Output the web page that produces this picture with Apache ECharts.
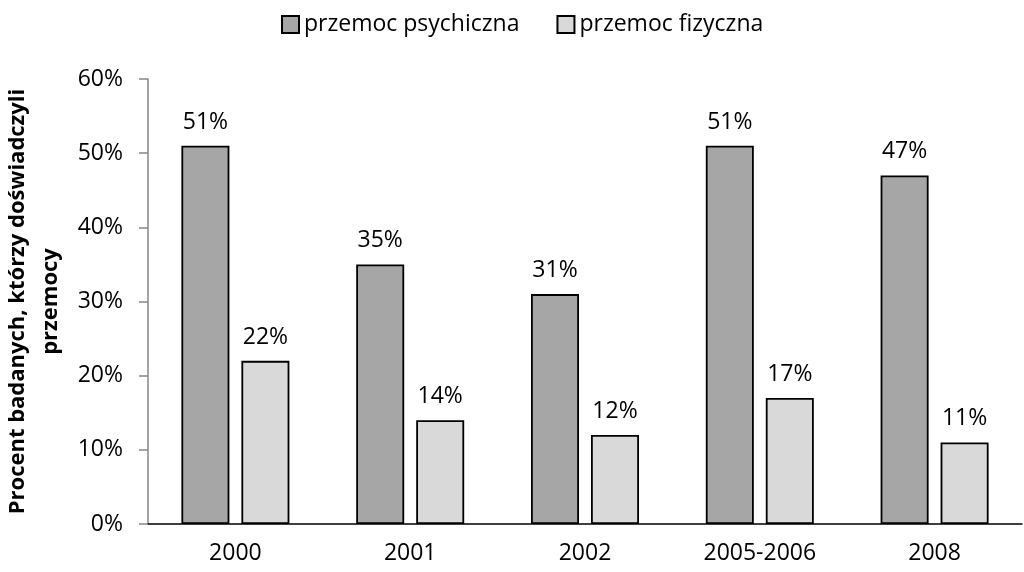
<!DOCTYPE html>
<html lang="pl">
<head>
  <meta charset="UTF-8">
  <title>Przemoc</title>
  <script src="https://cdn.jsdelivr.net/npm/echarts@6/dist/echarts.min.js"></script>
  <style>
    html, body { margin: 0; padding: 0; background: #fff; }
    #main { width: 1024px; height: 572px; }
  </style>
</head>
<body>
  <div id="main"></div>
  <script>
    // dane
    var categories = ['2000', '2001', '2002', '2005-2006', '2008'];
    var psychiczna = [51, 35, 31, 51, 47];
    var fizyczna = [22, 14, 12, 17, 11];
    var seriesNames = ['przemoc psychiczna', 'przemoc fizyczna'];

    var font = '"Open Sans", "Noto Sans", sans-serif';
    var myChart = echarts.init(document.getElementById('main'));

    function barSeries(name, data, color) {
      return {
        name: name,
        type: 'bar',
        data: data,
        barWidth: 48,
        barGap: '25%',
        itemStyle: { color: color, borderColor: '#000', borderWidth: 1.8 },
        label: {
          show: true,
          position: 'top',
          distance: 12,
          formatter: '{c}%',
          color: '#000',
          fontSize: 23,
          fontFamily: font
        }
      };
    }

    var option = {
      animation: false,
      backgroundColor: '#fff',
      legend: {
        top: 8,
        left: 276,
        itemWidth: 17,
        itemHeight: 17,
        itemGap: 37,
        icon: 'rect',
        textStyle: { fontSize: 23, color: '#000', fontFamily: font }
      },
      grid: { left: 148, right: 2, top: 79, bottom: 48, outerBoundsMode: 'none' },
      xAxis: {
        type: 'category',
        data: categories,
        axisLine: { lineStyle: { color: '#000', width: 1.5 } },
        axisTick: { show: false },
        axisLabel: { color: '#000', fontSize: 23, margin: 18, fontFamily: font }
      },
      yAxis: {
        type: 'value',
        min: 0,
        max: 60,
        interval: 10,
        name: 'Procent badanych, którzy doświadczyli\nprzemocy',
        nameLocation: 'middle',
        nameGap: 76,
        nameTextStyle: { color: '#000', fontSize: 22, fontWeight: 'bold', fontFamily: font, lineHeight: 33 },
        axisLine: { show: true, lineStyle: { color: '#868686', width: 1.5 } },
        axisTick: { show: true, length: 9, lineStyle: { color: '#868686', width: 1.5 } },
        splitLine: { show: false },
        axisLabel: { color: '#000', fontSize: 23, margin: 25, fontFamily: font, formatter: '{value}%' }
      },
      series: [
        barSeries(seriesNames[0], psychiczna, '#a6a6a6'),
        barSeries(seriesNames[1], fizyczna, '#d9d9d9')
      ]
    };
    myChart.setOption(option);
  </script>
</body>
</html>
